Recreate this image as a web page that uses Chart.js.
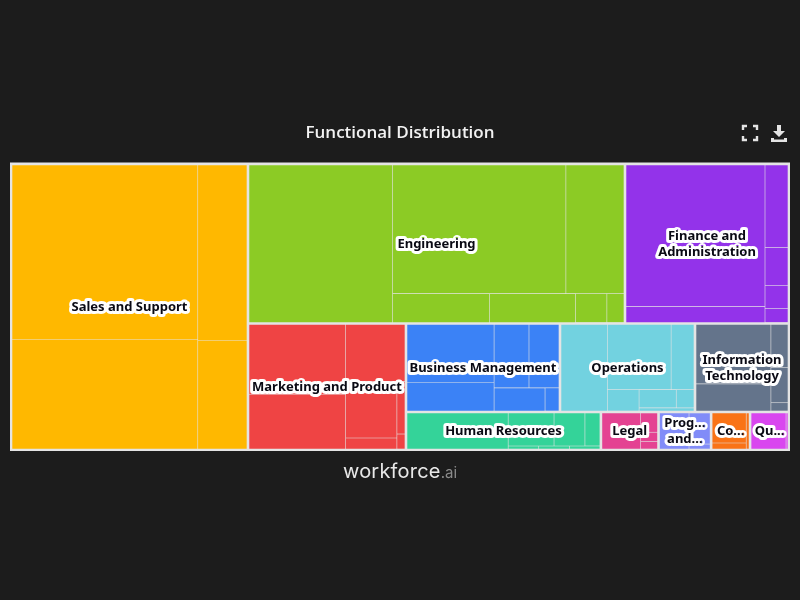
<!DOCTYPE html>
<html>
<head>
<meta charset="utf-8">
<title>Functional Distribution</title>
<script src="https://cdn.jsdelivr.net/npm/chart.js@4"></script>
<style>
  html, body { margin: 0; padding: 0; width: 800px; height: 600px; background: #1c1c1c; overflow: hidden; }
  #wrap { position: relative; width: 800px; height: 600px; }
  #logo { position: absolute; left: 0; width: 800px; top: 459px; text-align: center; font-family: Inter, sans-serif; font-size: 20px; letter-spacing: 0.2px; color: #e8e8e8; }
  #logo span { color: #8a8a8a; font-size: 15px; letter-spacing: 0; }
  .icon { position: absolute; top: 124px; width: 18px; height: 18px; }
</style>
</head>
<body>
<div id="wrap">
  <canvas id="myChart" width="800" height="600"></canvas>
  <svg class="icon" style="left:741px" viewBox="0 0 18 18" fill="none" stroke="#e4e4e4" stroke-width="2.4">
    <path d="M2 6V2H6M12 2H16V6M16 12V16H12M6 16H2V12"/>
  </svg>
  <svg class="icon" style="left:770px" viewBox="0 0 18 18" fill="#e4e4e4">
    <path d="M7 1H11V7H15L9 13L3 7H7Z"/><path d="M1 14H4V15.5H14V14H17V18H1Z"/>
  </svg>
  <div id="logo">workforce<span>.ai</span></div>
</div>
<script>
const groupNames = ['Sales and Support', 'Engineering', 'Finance and Administration', 'Marketing and Product',
  'Business Management', 'Operations', 'Information Technology', 'Human Resources', 'Legal',
  'Program and Project Management', 'Compliance', 'Quality'];
const groupLabels = [['Sales and Support'], ['Engineering'], ['Finance and', 'Administration'], ['Marketing and Product'],
  ['Business Management'], ['Operations'], ['Information', 'Technology'], ['Human Resources'], ['Legal'],
  ['Prog...', 'and...'], ['Co...'], ['Qu...']];
const groupValues = [6778, 6013, 2616, 1999, 1363, 1195, 832, 741, 219, 200, 148, 148];
const groupColors = ['#ffb800', '#8ccb25', '#9333ea', '#ef4444', '#3b82f6', '#72d2e0', '#64748b', '#34d399',
  '#e44292', '#818cf8', '#f97316', '#d946ef'];

const salesValues = [3200, 2016, 853, 529];
const engineeringValues = [2245, 2214, 742, 278, 246, 90, 49];
const financeValues = [1960, 222, 189, 87, 53, 32];
const marketingValues = [669, 524, 336, 286, 56, 42, 12];
const businessValues = [505, 244, 220, 189, 117, 32];
const operationsValues = [396, 410, 147, 67, 67, 32, 17];
const itValues = [442, 202, 73, 60, 14];
const hrValues = [354, 147, 99, 48, 9, 9, 9];
const legalValues = [133, 31, 15, 12];
const programValues = [102, 63, 10];
const complianceValues = [99, 20, 10];
const qualityValues = [126, 7];

const childValues = [salesValues, engineeringValues, financeValues, marketingValues, businessValues, operationsValues,
  itValues, hrValues, legalValues, programValues, complianceValues, qualityValues];

// how many cells go in each strip: c = column on the left, r = row on top
const groupStrips = ['c1', 'r2', 'c1', 'r3', 'r5'];
const childStrips = [
  ['c2', 'c2'],
  ['c1', 'r2', 'r4'],
  ['c2', 'c4'],
  ['c2', 'r1', 'c2', 'c2'],
  ['c2', 'r2', 'r2'],
  ['c1', 'r2', 'c1', 'r2', 'r1'],
  ['c2', 'c3'],
  ['c1', 'r3', 'r3'],
  ['c1', 'c3'],
  ['c1', 'c2'],
  ['c2', 'c1'],
  ['c1', 'c1'],
];

const mapWidth = 778;
const mapHeight = 286;
const frameColor = '#e4e4e4';

function layoutStrips(values, strips, box) {
  let {x0, y0, x1, y1} = box;
  let left = values.reduce((a, b) => a + b, 0);
  let at = 0;
  const rects = [];
  strips.forEach((strip) => {
    const part = values.slice(at, at + Number(strip.slice(1)));
    const sum = part.reduce((a, b) => a + b, 0);
    const share = sum / left;
    if (strip[0] === 'c') {
      const w = (x1 - x0) * share;
      let y = y0;
      part.forEach((v) => {
        const h = (y1 - y0) * v / sum;
        rects.push({x0: x0, x1: x0 + w, y0: y, y1: y + h});
        y += h;
      });
      x0 += w;
    } else {
      const h = (y1 - y0) * share;
      let x = x0;
      part.forEach((v) => {
        const w = (x1 - x0) * v / sum;
        rects.push({x0: x, x1: x + w, y0: y0, y1: y0 + h});
        x += w;
      });
      y0 += h;
    }
    at += part.length;
    left -= sum;
  });
  return rects;
}

function shrink(r, d) {
  return {x0: r.x0 + d, x1: r.x1 - d, y0: r.y0 + d, y1: r.y1 - d};
}

const groupCells = layoutStrips(groupValues, groupStrips, {x0: 0, y0: 0, x1: mapWidth, y1: mapHeight});
const leafCells = [];
const leafColors = [];
groupCells.forEach((cell, i) => {
  layoutStrips(childValues[i], childStrips[i], shrink(cell, 1)).forEach((r) => {
    leafCells.push(shrink(r, 0.3));
    leafColors.push(groupColors[i]);
  });
});

class TreemapController extends Chart.DatasetController {
  update(mode) {
    const meta = this._cachedMeta;
    this.updateElements(meta.data, 0, meta.data.length, mode);
  }
  updateElements(rects, start, count, mode) {
    const {xScale, yScale} = this._cachedMeta;
    const data = this.getDataset().data;
    for (let i = start; i < start + count; i++) {
      const left = xScale.getPixelForValue(data[i].x0);
      const right = xScale.getPixelForValue(data[i].x1);
      const top = yScale.getPixelForValue(data[i].y0);
      const bottom = yScale.getPixelForValue(data[i].y1);
      this.updateElement(rects[i], i, {
        x: (left + right) / 2,
        y: top,
        base: bottom,
        width: right - left,
        height: bottom - top,
        horizontal: false,
        borderSkipped: {},
        enableBorderRadius: false,
        inflateAmount: 0,
        options: this.resolveDataElementOptions(i, mode),
      }, mode);
    }
  }
}
TreemapController.id = 'treemap';
TreemapController.defaults = {dataElementType: 'bar'};
Chart.register(TreemapController);

const groupLabelPlugin = {
  id: 'groupLabels',
  afterDatasetsDraw(chart) {
    const ctx = chart.ctx;
    const cells = chart.getDatasetMeta(1).data;
    ctx.save();
    ctx.font = 'bold 13px "Noto Sans"';
    ctx.textAlign = 'center';
    ctx.textBaseline = 'middle';
    ctx.lineJoin = 'round';
    cells.forEach((cell, i) => {
      const lines = groupLabels[i];
      const cy = (cell.y + cell.base) / 2 + 0.5;
      lines.forEach((line, n) => {
        const y = cy + (n - (lines.length - 1) / 2) * 16;
        ctx.strokeStyle = '#ffffff';
        ctx.lineWidth = 6;
        ctx.strokeText(line, cell.x, y);
        ctx.fillStyle = '#0a0a14';
        ctx.fillText(line, cell.x, y);
      });
    });
    ctx.restore();
  },
};

const config = {
  type: 'treemap',
  data: {
    labels: groupNames,
    datasets: [
      {label: 'Roles', data: leafCells, backgroundColor: leafColors, clip: false},
      {label: 'Functions', data: groupCells, backgroundColor: frameColor, clip: false},
      {label: 'Frame', data: [{x0: -1, x1: mapWidth + 1, y0: -1.5, y1: mapHeight + 1}], backgroundColor: frameColor, clip: false},
    ],
  },
  options: {
    responsive: false,
    animation: false,
    parsing: false,
    events: [],
    layout: {padding: {left: 11, right: 11, top: 122.5, bottom: 150}},
    scales: {
      x: {type: 'linear', display: false, min: 0, max: mapWidth},
      y: {type: 'linear', display: false, min: 0, max: mapHeight, reverse: true},
    },
    plugins: {
      legend: {display: false},
      tooltip: {enabled: false},
      title: {
        display: true,
        text: 'Functional Distribution',
        color: '#f2f2f2',
        font: {family: 'Open Sans', size: 17, weight: '600'},
        padding: {top: 0, bottom: 21},
      },
    },
  },
  plugins: [groupLabelPlugin],
};

const myChart = new Chart(document.getElementById('myChart'), config);
</script>
</body>
</html>
